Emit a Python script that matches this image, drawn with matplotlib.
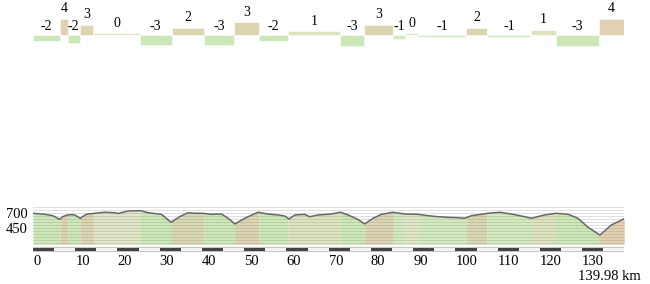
import numpy as np
import matplotlib
matplotlib.use('Agg')
import matplotlib.pyplot as plt
from matplotlib.patches import Rectangle

plt.rcParams['font.family'] = ['Liberation Serif', 'DejaVu Serif']
plt.rcParams['font.size'] = 10

# gradient segments: boundaries in km, mean grade in %, printed label
seg_km = [0, 6.4, 8.2, 11.1, 14.3, 25.3, 32.8, 40.5, 47.6, 53.5, 60.4,
          72.7, 78.4, 85.3, 88.0, 91.2, 102.6, 107.4, 118.0, 123.7, 133.9, 139.98]
seg_grade = [-1.5, 4.0, -2.2, 2.5, 0.4, -2.5, 1.7, -2.5, 3.1, -1.6, 0.8,
             -2.9, 2.5, -1.1, 0.4, -0.7, 1.7, -0.7, 1.25, -2.9, 4.0]
seg_label = ['-2', '4', '-2', '3', '0', '-3', '2', '-3', '3', '-2', '1',
             '-3', '3', '-1', '0', '-1', '2', '-1', '1', '-3', '4']

# elevation profile (km, m)
dist_km = [0, 2.8, 4.7, 6.3, 7.1, 8.2, 9.2, 9.9, 11.2, 12.6, 14.6, 17.0, 19.3,
           20.1, 21.3, 22.5, 25.6, 27.2, 30.4, 32.7, 34.7, 36.7, 38.3, 40.2,
           42.2, 44.6, 46.2, 47.8, 50.1, 53.3, 55.6, 58.0, 59.6, 60.6, 62.0,
           64.3, 65.5, 67.5, 70.6, 72.8, 74.6, 76.9, 78.5, 80.5, 82.5, 85.2,
           88.0, 91.1, 93.5, 95.9, 98.2, 100.6, 102.2, 103.8, 106.1, 107.7,
           110.5, 113.2, 115.6, 118.0, 121.1, 123.9, 126.7, 129.0, 131.4,
           134.2, 136.9, 139.84, 139.98]
elev_m = [700, 683, 660, 600, 647, 672, 677, 672, 617, 683, 700, 717, 710,
          697, 717, 738, 743, 710, 683, 550, 643, 710, 700, 700,
          683, 688, 617, 522, 617, 717, 688, 672, 655, 605, 672,
          683, 643, 672, 688, 717, 672, 600, 522, 617, 683, 717,
          688, 683, 660, 643, 633, 627, 617, 660, 683, 700,
          717, 688, 655, 617, 672, 700, 683, 617, 467,
          338, 505, 605, 605]

total_km = 139.98
xtick_vals = list(range(0, 140, 10))
ytick_vals = [450, 700]

grade_colors = {'-3': '#cde8b7', '-2': '#cde8b7', '-1': '#d3eabf',
                '0': '#e1e6c6', '1': '#dde3bd', '2': '#d9d7b2',
                '3': '#ddd4b2', '4': '#e1d1b1'}

W, H = 650, 284
fig = plt.figure(figsize=(W / 100, H / 100), dpi=100)


def px_axes(x0, y0, x1, y1):
    return fig.add_axes([x0 / W, 1 - y1 / H, (x1 - x0) / W, (y1 - y0) / H])


x_left, x_right = 33, 624.3
widths = np.diff(seg_km)
centers = np.array(seg_km[:-1]) + widths / 2
colors = [grade_colors[l] for l in seg_label]

# gradient bars
ax_top = px_axes(x_left, 10, x_right, 50)
ax_top.bar(seg_km[:-1], seg_grade, width=widths, align='edge', color=colors,
           edgecolor='white', linewidth=0.4)
for xc, g, lbl in zip(centers, seg_grade, seg_label):
    gap = 6.5 if g > 0 else 4.7
    ax_top.annotate(lbl, (xc, max(g, 0)), xytext=(0, gap * 0.72),
                    textcoords='offset points', ha='center', va='baseline')
ax_top.set_xlim(0, total_km)
ax_top.set_ylim(-3.825, 6.175)
ax_top.axis('off')

# elevation profile
ax = px_axes(x_left, 207.3, x_right, 244.3)
ymin, ymax = 183.3, 800
for i in range(len(seg_label)):
    a, b = seg_km[i], seg_km[i + 1]
    xs = [a] + [d for d in dist_km if a < d < b] + [b]
    ys = np.interp(xs, dist_km, elev_m)
    ax.fill_between(xs, ymin, ys, color=colors[i], linewidth=0, zorder=1)
for v in range(200, 801, 50):
    ax.axhline(v, color='#8a8a8a', alpha=0.28, linewidth=0.7, zorder=2)
ax.plot(dist_km, elev_m, color='#666666', linewidth=1.1, zorder=3)
ax.set_xlim(0, total_km)
ax.set_ylim(ymin, ymax)
ax.set_xticks([])
ax.set_yticks(ytick_vals)
ax.set_yticklabels([str(v) for v in ytick_vals])
ax.tick_params(axis='y', length=0, pad=4, labelsize=10.5)
for s in ax.spines.values():
    s.set_visible(False)

# distance scale bar
ax_bar = px_axes(x_left, 246.5, x_right, 252.5)
ax_bar.set_xlim(0, total_km)
ax_bar.set_ylim(0, 1)
ax_bar.add_patch(Rectangle((0, 0.08), total_km, 0.84, color='#c4c4c4', linewidth=0))
ax_bar.add_patch(Rectangle((0, 0.32), total_km, 0.36, color='#f4f4f4', linewidth=0))
for k in range(0, 140, 10):
    ax_bar.add_patch(Rectangle((k, 0.25), 5, 0.5, color='#444444', linewidth=0))
ax_bar.set_yticks([])
ax_bar.set_xticks(xtick_vals)
ax_bar.set_xticklabels([str(v) for v in xtick_vals], ha='left')
ax_bar.tick_params(axis='x', length=0, pad=2, labelsize=10.5)
for s in ax_bar.spines.values():
    s.set_visible(False)
ax_bar.annotate('%.2f km' % total_km, xy=(1, 0), xycoords='axes fraction',
                xytext=(16 * 0.72, -27 * 0.72), textcoords='offset points',
                ha='right', va='baseline', fontsize=10.5)

fig.savefig('out.png', dpi=100)
